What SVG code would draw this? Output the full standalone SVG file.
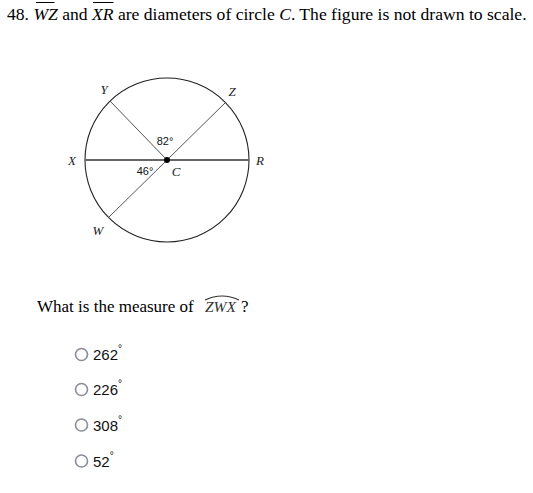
<svg xmlns="http://www.w3.org/2000/svg" width="533" height="493" viewBox="0 0 533 493">
<style>
.t{font-family:"Liberation Serif","Times New Roman",serif;font-size:17px;fill:#000}
.lbl{font-family:"Liberation Serif","Times New Roman",serif;font-style:italic;font-size:13px;fill:#222}
.deg{font-family:"Liberation Sans",Arial,sans-serif;font-size:11px;fill:#111}
.opt{font-family:"Liberation Sans",Arial,sans-serif;font-size:15px;fill:#111}
.sup{font-size:10px}
.radio{fill:#fff;stroke:#8c8c98;stroke-width:1.6}
.ln{stroke:#555;stroke-width:1;fill:none}
.bar{stroke:#000;stroke-width:1}
</style>
<rect width="533" height="493" fill="#fff"/>
<g id="title">
<text class="t" x="7" y="20" style="font-size:17.6px">48.  <tspan font-style="italic">WZ</tspan> and <tspan font-style="italic">XR</tspan> are diameters of circle <tspan font-style="italic">C</tspan>. The figure is not drawn to scale.</text>
<line class="bar" x1="36" y1="2.5" x2="54.5" y2="2.5"/>
<line class="bar" x1="93" y1="2.5" x2="113.5" y2="2.5"/>
</g>
<g id="circle-C">
<circle cx="167" cy="160" r="82" fill="none" stroke="#222" stroke-width="1.1"/>
</g>
<g id="connectors">
<line x1="85" y1="160" x2="249" y2="160" style="stroke-width:2;stroke:#666"/>
<line class="ln" x1="226" y1="102" x2="108" y2="218"/>
<line class="ln" x1="110" y1="101" x2="167" y2="160"/>
</g>
<g id="center-C">
<circle cx="167" cy="160" r="3" fill="#000"/>
<text class="lbl" x="176" y="176" text-anchor="middle">C</text>
</g>
<g id="point-X"><text class="lbl" x="72" y="164.5" text-anchor="middle">X</text></g>
<g id="point-Y"><text class="lbl" x="104" y="93.5" text-anchor="middle">Y</text></g>
<g id="point-Z"><text class="lbl" x="232" y="95.5" text-anchor="middle">Z</text></g>
<g id="point-R"><text class="lbl" x="260" y="164.5" text-anchor="middle">R</text></g>
<g id="point-W"><text class="lbl" x="98" y="234.5" text-anchor="middle">W</text></g>
<g id="angle-82"><text class="deg" x="165" y="145" text-anchor="middle">82°</text></g>
<g id="angle-46"><text class="deg" x="145" y="175" text-anchor="middle">46°</text></g>
<g id="question">
<text class="t" x="37" y="312">What is the measure of</text>
<text x="205" y="312" style="font-family:'Liberation Serif','Times New Roman',serif;font-style:italic;font-size:15.5px;fill:#333">ZWX</text>
<path d="M205,300 Q222,292 239,300" fill="none" stroke="#333" stroke-width="1.2"/>
<text class="t" x="241" y="312">?</text>
</g>
<g id="option-1"><circle class="radio" cx="81.5" cy="354.5" r="6"/><text class="opt" x="93" y="360">262<tspan class="sup" dy="-8">°</tspan></text></g>
<g id="option-2"><circle class="radio" cx="81.5" cy="389.5" r="6"/><text class="opt" x="93" y="395">226<tspan class="sup" dy="-8">°</tspan></text></g>
<g id="option-3"><circle class="radio" cx="81.5" cy="425" r="6"/><text class="opt" x="93" y="430.5">308<tspan class="sup" dy="-8">°</tspan></text></g>
<g id="option-4"><circle class="radio" cx="81.5" cy="461" r="6"/><text class="opt" x="93" y="466.5">52<tspan class="sup" dy="-8">°</tspan></text></g>
</svg>
